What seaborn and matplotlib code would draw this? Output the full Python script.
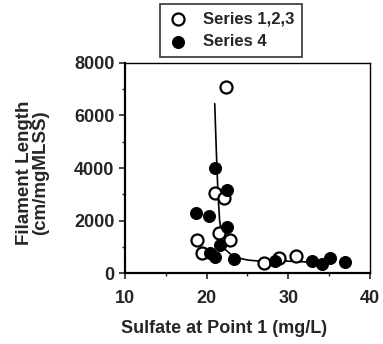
import pandas as pd
import matplotlib.pyplot as plt
import seaborn as sns
from matplotlib.ticker import MultipleLocator

# Series 1,2,3 (open circles)
s123_x = [22.4, 21.0, 22.1, 21.5, 18.8, 22.9, 19.4, 27.0, 28.9, 30.9]
s123_y = [7070, 3040, 2850, 1510, 1260, 1260, 750, 370, 560, 650]

# Series 4 (filled circles)
s4_x = [21.0, 22.5, 18.7, 20.3, 22.5, 21.7, 20.4, 21.0, 23.3, 28.4, 32.9, 34.1, 35.1, 36.9]
s4_y = [3990, 3160, 2270, 2170, 1770, 1070, 750, 600, 520, 460, 460, 340, 560, 430]

# fitted curve
fit_x = [21.0, 21.2, 21.4, 21.6, 21.9, 22.3, 23.3, 25.0, 27.0, 29.0, 31.0, 33.0, 34.5]
fit_y = [6450, 4600, 3000, 2000, 1300, 900, 620, 500, 440, 470, 440, 420, 410]

sns.set_style("ticks")
plt.rcParams['font.family'] = ['Liberation Sans', 'DejaVu Sans']
plt.rcParams['font.weight'] = 'bold'

fig = plt.figure(figsize=(3.83, 3.44), dpi=100)
ax = fig.add_axes([0.326, 0.206, 0.640, 0.611])

sns.lineplot(x=fit_x, y=fit_y, sort=False, color='black', linewidth=1.2, ax=ax)
sns.scatterplot(x=s123_x, y=s123_y, ax=ax, s=75, facecolor='white',
                edgecolor='black', linewidth=1.6, label='Series 1,2,3', zorder=3)
sns.scatterplot(x=s4_x, y=s4_y, ax=ax, s=75, color='black',
                edgecolor='black', label='Series 4', zorder=3)

ax.set_xlim(10, 40)
ax.set_ylim(0, 8000)
ax.xaxis.set_major_locator(MultipleLocator(10))
ax.xaxis.set_minor_locator(MultipleLocator(5))
ax.yaxis.set_major_locator(MultipleLocator(2000))
ax.yaxis.set_minor_locator(MultipleLocator(1000))
ax.tick_params(which='major', direction='out', length=4, width=1.2, labelsize=13)
ax.tick_params(which='minor', direction='out', length=2.5, width=1)
ax.tick_params(axis='x', pad=8)
for sp in ax.spines.values():
    sp.set_visible(True)
    sp.set_color('black')
ax.spines['left'].set_linewidth(1.6)
ax.spines['bottom'].set_linewidth(1.6)
ax.spines['top'].set_linewidth(1.0)
ax.spines['right'].set_linewidth(1.0)

ax.set_xlabel('Sulfate at Point 1 (mg/L)', fontsize=13, fontweight='bold')
ax.xaxis.set_label_coords(0.404, -0.222)
ax.set_ylabel('Filament Length\n(cm/mgMLSS)', fontsize=13.5, fontweight='bold',
              linespacing=0.95)
ax.yaxis.set_label_coords(-0.31, 0.476)

leg = ax.legend(loc='lower center', bbox_to_anchor=(0.433, 1.03), frameon=True,
                fancybox=False, edgecolor='black', fontsize=12,
                handletextpad=0.9, borderpad=0.45, labelspacing=0.45,
                handlelength=1.2, markerscale=1.0, borderaxespad=0)
leg.get_frame().set_linewidth(1.2)

fig.savefig('out.png', dpi=100)
